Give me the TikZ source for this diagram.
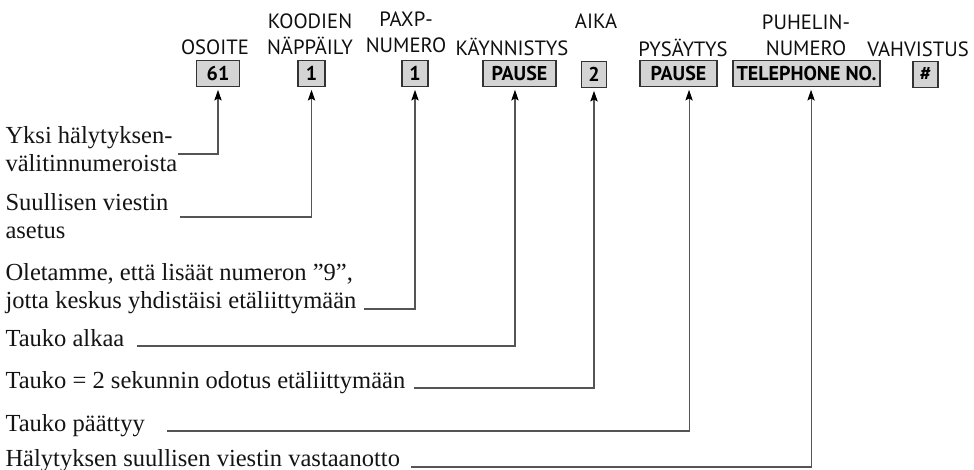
\documentclass[tikz,border=0pt]{standalone}
\usepackage{fontspec}
\setmainfont{Liberation Serif}
\newfontfamily\hdrfont{PT Sans}
\usetikzlibrary{arrows.meta}

\tikzset{every picture/.style={line width=0.75pt}}
\tikzset{
  hdr/.style={font=\hdrfont\fontsize{15.5}{19.5}\selectfont, align=center, inner sep=0pt, text={rgb,255:red,15;green,15;blue,15}},
  keybox/.style={draw={rgb,255:red,51;green,51;blue,51}, line width=1pt, fill={rgb,255:red,212;green,212;blue,212}, minimum width=#1, minimum height=19.5pt, inner sep=0pt, font=\hdrfont\bfseries\fontsize{15}{15}\selectfont},
  desc/.style={font=\fontsize{18.4}{21}\selectfont, align=left, inner sep=0pt, text={rgb,255:red,20;green,20;blue,20}},
  conn/.style={draw={rgb,255:red,85;green,85;blue,85}, line width=0.8pt, -{Stealth[length=8pt,width=5.5pt,inset=1.5pt,color=black]}, shorten >=2pt},
}

\begin{document}
\begin{tikzpicture}[x=0.75pt,y=0.75pt,yscale=-1,xscale=1]
\useasboundingbox (0,0) rectangle (974,470);

% Header Text
\draw (215,47) node [hdr] (hosoite) {OSOITE};
\draw (310,34) node [hdr] (hkoodi) {KOODIEN\\NÄPPÄILY};
\draw (406,32) node [hdr] (hpaxp) {PAXP-\\NUMERO};
\draw (512,47) node [hdr] (halku) {KÄYNNISTYS};
\draw (596,21) node [hdr] (haika) {AIKA};
\draw (683,48) node [hdr] (hloppu) {PYSÄYTYS};
\draw (806,35) node [hdr] (hpuh) {PUHELIN-\\NUMERO};
\draw (918,49) node [hdr] (hvahv) {VAHVISTUS};

% Key boxes
\draw (218,73.5) node [keybox=32.25pt] (osoite) {61};
\draw (311.5,73.5) node [keybox=20.25pt] (koodi) {1};
\draw (415,73.5) node [keybox=19.5pt] (paxp) {1};
\draw (519.5,73.5) node [keybox=54.75pt] (alku) {PAUSE};
\draw (594,74.5) node [keybox=18.75pt] (aika) {2};
\draw (678.5,73.5) node [keybox=57.75pt] (loppu) {PAUSE};
\draw (806.5,73.5) node [keybox=110.25pt] (puh) {TELEPHONE NO.};
\draw (925.5,74.5) node [keybox=18.75pt] (vahv) {\#};

% Text Node
\draw (5,149) node [desc, anchor=west] (d1) {Yksi hälytyksen-\\välitinnumeroista};
\draw (5,216) node [desc, anchor=west] (d2) {Suullisen viestin\\asetus};
\draw (5,288.5) node [desc, anchor=west] (d3) {Oletamme, että lisäät numeron ”9”,\\jotta keskus yhdistäisi etäliittymään};
\draw (5,346) node [desc, anchor=base west] (d4) {Tauko alkaa};
\draw (5,388) node [desc, anchor=base west] (d5) {Tauko = 2 sekunnin odotus etäliittymään};
\draw (5,431) node [desc, anchor=base west] (d6) {Tauko päättyy};
\draw (5,466) node [desc, anchor=base west] (d7) {Hälytyksen suullisen viestin vastaanotto};

% Connectors
\coordinate (c1) at (178,154);
\coordinate (c2) at (180,217);
\coordinate (c3) at (364,309);
\coordinate (c4) at (137,346);
\coordinate (c5) at (414,388);
\coordinate (c6) at (167,431);
\coordinate (c7) at (411,467);
\draw [conn] (c1) -| (osoite.south);
\draw [conn] (c2) -| (koodi.south);
\draw [conn] (c3) -| (paxp.south);
\draw [conn] (c4) -| ([xshift=-3.4pt]alku.south);
\draw [conn] (c5) -| (aika.south);
\draw [conn] (c6) -| ([xshift=7.9pt]loppu.south);
\draw [conn] (c7) -| ([xshift=3.4pt]puh.south);

\end{tikzpicture}
\end{document}
